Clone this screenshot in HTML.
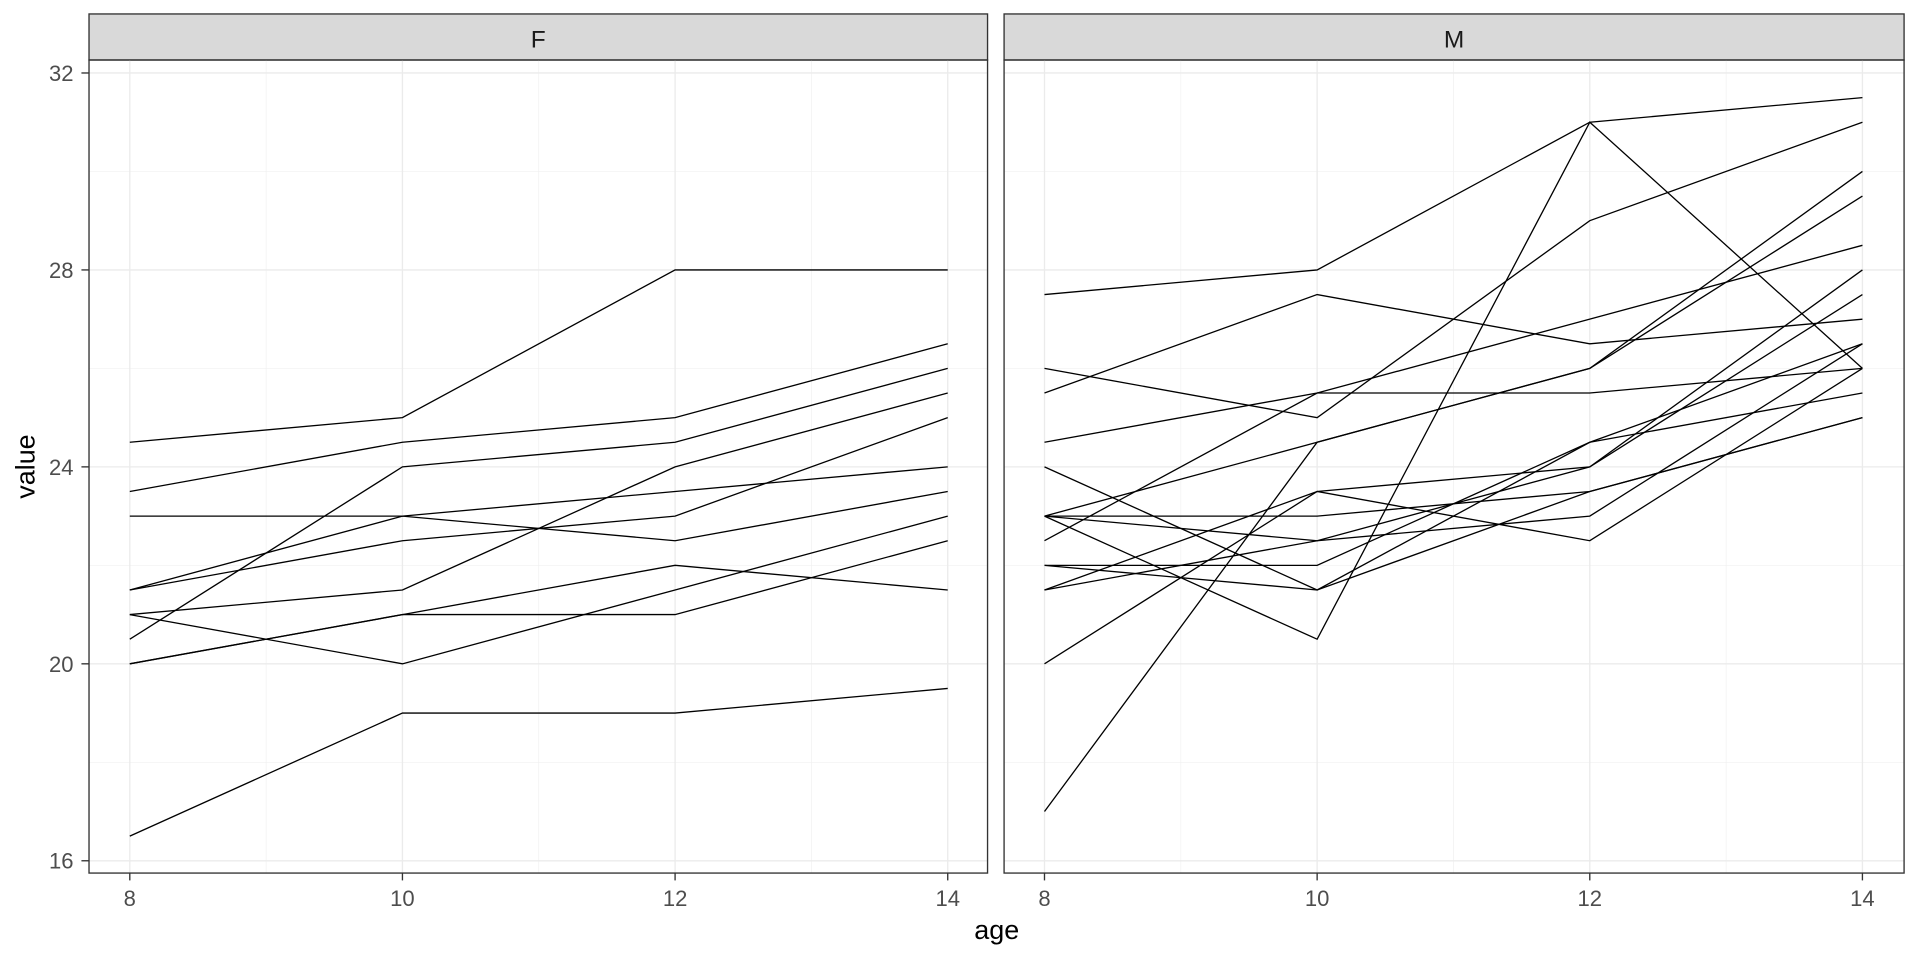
<!DOCTYPE html>
<html><head><style>html,body{margin:0;padding:0;background:#fff}</style></head><body>
<svg width="1920" height="960" viewBox="0 0 1568 784" xmlns="http://www.w3.org/2000/svg" font-family="Liberation Sans, sans-serif">
<rect width="1568" height="784" fill="#fff"/>
<g id="g"></g>
</svg>
<script>
const g=document.getElementById('g');let s='';
const Y=v=>59.6+(32-v)*40.21;
const F=[[21,20,21.5,23],[21,21.5,24,25.5],[20.5,24,24.5,26],[23.5,24.5,25,26.5],[21.5,23,22.5,23.5],[20,21,21,22.5],[21.5,22.5,23,25],[23,23,23.5,24],[20,21,22,21.5],[16.5,19,19,19.5],[24.5,25,28,28]];
const M=[[26,25,29,31],[21.5,22.5,23,26.5],[23,22.5,24,27.5],[25.5,27.5,26.5,27],[20,23.5,22.5,26],[24.5,25.5,27,28.5],[22,22,24.5,26.5],[24,21.5,24.5,25.5],[23,20.5,31,26],[27.5,28,31,31.5],[23,23,23.5,25],[21.5,23.5,24,28],[17,24.5,26,29.5],[22.5,25.5,25.5,26],[23,24.5,26,30],[22,21.5,23.5,25]];
function panel(x0,x1,x8,name,data){
 const X=a=>x8+(a-8)*111.33;
 s+=`<rect x="${x0}" y="11.4" width="${x1-x0}" height="37.6" fill="#d9d9d9" stroke="#333" stroke-width="1.1"/>`;
 s+=`<text x="${(x0+x1)/2}" y="38.6" font-size="20" fill="#1a1a1a" text-anchor="middle">${name}</text>`;
 for(const v of [18,22,26,30]) s+=`<line x1="${x0}" x2="${x1}" y1="${Y(v)}" y2="${Y(v)}" stroke="#f0f0f0" stroke-width="0.55"/>`;
 for(const a of [9,11,13]) s+=`<line y1="49" y2="713" x1="${X(a)}" x2="${X(a)}" stroke="#f0f0f0" stroke-width="0.55"/>`;
 for(const v of [16,20,24,28,32]) s+=`<line x1="${x0}" x2="${x1}" y1="${Y(v)}" y2="${Y(v)}" stroke="#ebebeb" stroke-width="1.1"/>`;
 for(const a of [8,10,12,14]){s+=`<line y1="49" y2="713" x1="${X(a)}" x2="${X(a)}" stroke="#ebebeb" stroke-width="1.1"/>`;
  s+=`<line y1="713" y2="719" x1="${X(a)}" x2="${X(a)}" stroke="#333" stroke-width="1.1"/>`;
  s+=`<text x="${X(a)}" y="740" font-size="18" fill="#4d4d4d" text-anchor="middle">${a}</text>`;}
 for(const d of data) s+=`<polyline fill="none" stroke="#000" stroke-width="1.07" points="${d.map((v,i)=>X(8+2*i)+','+Y(v)).join(' ')}"/>`;
 s+=`<rect x="${x0}" y="49" width="${x1-x0}" height="664" fill="none" stroke="#333" stroke-width="1.1"/>`;
}
panel(72.7,806.5,106,'F',F);
panel(820,1555,853,'M',M);
for(const v of [16,20,24,28,32]){s+=`<line x1="66.5" x2="72.7" y1="${Y(v)}" y2="${Y(v)}" stroke="#333" stroke-width="1.1"/>`;
 s+=`<text x="60" y="${Y(v)+6.5}" font-size="18" fill="#4d4d4d" text-anchor="end">${v}</text>`;}
s+=`<text x="814" y="767" font-size="22" fill="#000" text-anchor="middle">age</text>`;
s+=`<text transform="translate(28,381) rotate(-90)" font-size="22" fill="#000" text-anchor="middle">value</text>`;
g.innerHTML=s;
</script>
</body></html>
